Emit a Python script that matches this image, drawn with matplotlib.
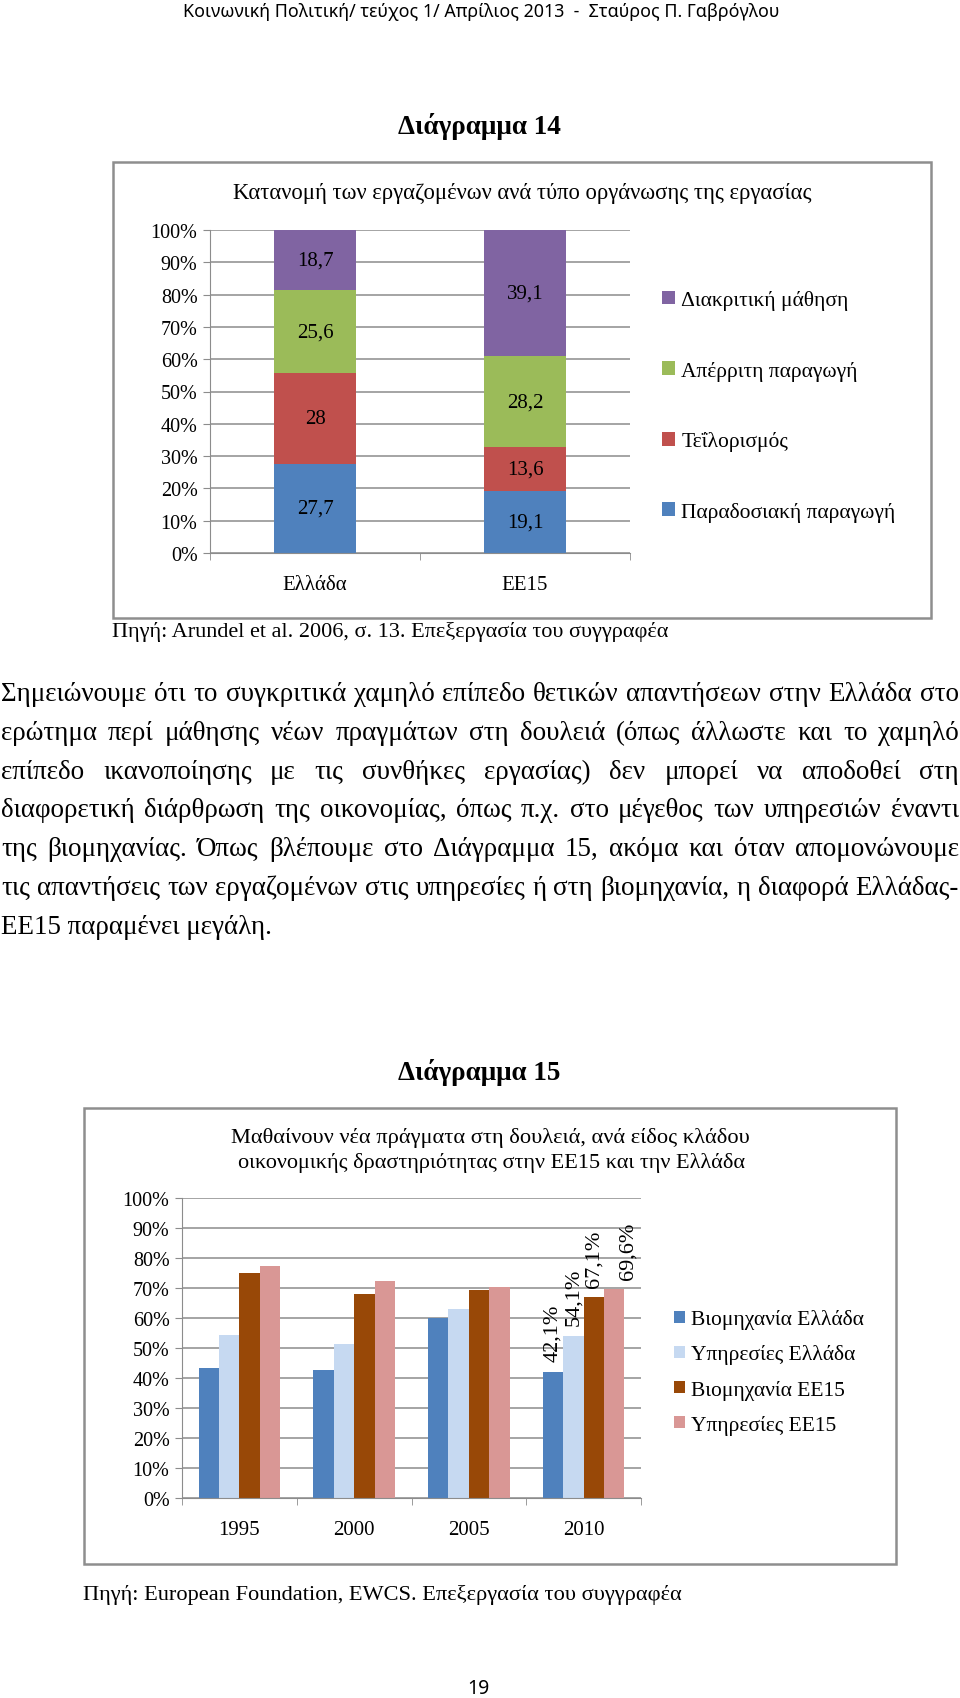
import matplotlib
matplotlib.use('Agg')
import matplotlib.pyplot as plt
import numpy as np
from matplotlib.patches import Rectangle

W, H = 960, 1699
SERIF = 'Liberation Serif'
SANS = 'Noto Sans'
GRID = '#8c8c8c'
plt.rcParams['font.family'] = SERIF

# --- Διάγραμμα 14 data ---
countries = ['Ελλάδα', 'ΕΕ15']
org_types = ['Παραδοσιακή παραγωγή', 'Τεΐλορισμός', 'Απέρριτη παραγωγή', 'Διακριτική μάθηση']
org_colors = ['#4f81bd', '#c0504d', '#9bbb59', '#8064a2']
greece_org = [27.7, 28, 25.6, 18.7]
eu15_org = [19.1, 13.6, 28.2, 39.1]

# --- Διάγραμμα 15 data ---
years = ['1995', '2000', '2005', '2010']
sectors = ['Βιομηχανία Ελλάδα', 'Υπηρεσίες Ελλάδα', 'Βιομηχανία ΕΕ15', 'Υπηρεσίες ΕΕ15']
sector_colors = ['#4f81bd', '#c6d9f1', '#984807', '#d99795']
industry_gr = [43.5, 42.8, 60.0, 42.1]
services_gr = [54.2, 51.4, 63.1, 54.1]
industry_eu = [75.1, 67.9, 69.5, 67.1]
services_eu = [77.5, 72.5, 70.5, 69.6]
labelled_year = '2010'
label_shift = [0, 0, 0, 0.12]  # last label sits a bit right of its bar in the original

paragraph = [
    'Σημειώνουμε ότι το συγκριτικά χαμηλό επίπεδο θετικών απαντήσεων στην Ελλάδα στο',
    'ερώτημα περί μάθησης νέων πραγμάτων στη δουλειά (όπως άλλωστε και το χαμηλό',
    'επίπεδο ικανοποίησης με τις συνθήκες εργασίας) δεν μπορεί να αποδοθεί στη',
    'διαφορετική διάρθρωση της οικονομίας, όπως π.χ. στο μέγεθος των υπηρεσιών έναντι',
    'της βιομηχανίας. Όπως βλέπουμε στο Διάγραμμα 15, ακόμα και όταν απομονώνουμε',
    'τις απαντήσεις των εργαζομένων στις υπηρεσίες ή στη βιομηχανία, η διαφορά Ελλάδας-',
    'ΕΕ15 παραμένει μεγάλη.',
]


def comma(v, fmt='{:g}'):
    return fmt.format(v).replace('.', ',')


fig = plt.figure(figsize=(W / 100, H / 100), dpi=100, facecolor='white')
r = fig.canvas.get_renderer()


def put(x, y, s, size=12, width=None, **kw):
    t = fig.text(x / W, 1 - y / H, s, fontsize=size, **kw)
    if width:
        w = t.get_window_extent(r).width
        t.set_fontsize(size * width / w)
    return t


def axes_px(left, top, right, bottom):
    return fig.add_axes([left / W, 1 - bottom / H, (right - left) / W, (bottom - top) / H])


def frame_px(left, top, right, bottom):
    fig.add_artist(Rectangle((left / W, 1 - bottom / H), (right - left) / W, (bottom - top) / H,
                             transform=fig.transFigure, fill=False, ec='#8e8e8e', lw=1.8))


def style_axes(ax, labels):
    n = len(labels)
    ax.set_ylim(0, 100)
    ax.set_yticks(np.arange(0, 101, 10))
    ax.set_yticklabels([f'{v}%' for v in range(0, 101, 10)], family=SERIF, fontsize=14.5)
    ax.set_xlim(-0.5, n - 0.5)
    ax.set_xticks(np.arange(n))
    ax.set_xticklabels(labels, family=SERIF, fontsize=15)
    ax.set_xticks(np.arange(n + 1) - 0.5, minor=True)
    ax.tick_params(axis='x', which='major', length=0, pad=16)
    ax.tick_params(axis='x', which='minor', length=5, color=GRID, direction='out')
    ax.tick_params(axis='y', length=5, color=GRID, pad=4)
    for s in ['top', 'right']:
        ax.spines[s].set_visible(False)
    for s in ['left', 'bottom']:
        ax.spines[s].set_color(GRID)
    ax.yaxis.grid(True, color=GRID, lw=1.1)
    ax.set_axisbelow(True)


# header
put(481, 12, 'Κοινωνική Πολιτική/ τεύχος 1/ Απρίλιος 2013  -  Σταύρος Π. Γαβρόγλου',
    size=12, width=594, family=SANS, ha='center', va='center')
put(479, 127, 'Διάγραμμα 14', size=16, width=163, family=SERIF, weight='bold', ha='center', va='center')

# ---------------- chart 14 ----------------
frame_px(113, 163, 931, 619)
put(522, 193, 'Κατανομή των εργαζομένων ανά τύπο οργάνωσης της εργασίας', size=14, width=581,
    family=SERIF, ha='center', va='center')
ax1 = axes_px(210, 231, 630, 554)
x1 = np.arange(len(countries))
bottom = np.zeros(len(countries))
conts = []
for i, name in enumerate(org_types):
    vals = np.array([greece_org[i], eu15_org[i]])
    c = ax1.bar(x1, vals, 0.39, bottom=bottom, color=org_colors[i], label=name, zorder=2)
    ax1.bar_label(c, labels=[comma(v) for v in vals], label_type='center', fontsize=15,
                  family=SERIF)
    conts.append(c)
    bottom += vals
style_axes(ax1, countries)
fig.legend(conts[::-1], org_types[::-1], loc='center left', bbox_to_anchor=(662 / W, 1 - 407 / H),
           frameon=False, prop={'family': SERIF, 'size': 15.5}, handlelength=0.6, handleheight=0.6,
           handletextpad=0.3, labelspacing=2.35, borderaxespad=0, borderpad=0)

put(112, 632, 'Πηγή: Arundel et al. 2006, σ. 13. Επεξεργασία του συγγραφέα', size=14, width=559,
    family=SERIF, ha='left', va='center')


# ---------------- paragraph (justified) ----------------
def natural_w(s, fs):
    t = fig.text(0, 0, s, fontsize=fs, family=SERIF)
    w = t.get_window_extent(r).width
    t.remove()
    return w


fs = 18
widest = max(natural_w(l, fs) for l in paragraph[:-1])
fs = fs * 956 / widest
line_gap = 38.8
for k, line in enumerate(paragraph):
    y = 701 + k * line_gap
    if k == len(paragraph) - 1:
        put(1, y, line, size=fs, family=SERIF, ha='left', va='baseline')
        continue
    words = line.split(' ')
    ws = [natural_w(w, fs) for w in words]
    gap = (958 - sum(ws)) / (len(words) - 1)
    x = 1
    for w, wd in zip(words, ws):
        put(x, y, w, size=fs, family=SERIF, ha='left', va='baseline')
        x += wd + gap

put(479, 1073, 'Διάγραμμα 15', size=16, width=163, family=SERIF, weight='bold', ha='center', va='center')

# ---------------- chart 15 ----------------
frame_px(84, 1109, 896, 1565)
put(490, 1138, 'Μαθαίνουν νέα πράγματα στη δουλειά, ανά είδος κλάδου', size=14, width=521,
    family=SERIF, ha='center', va='center')
put(491, 1163, 'οικονομικής δραστηριότητας στην ΕΕ15 και την Ελλάδα', size=14, width=513,
    family=SERIF, ha='center', va='center')
ax2 = axes_px(182, 1199, 641, 1499)
x2 = np.arange(len(years))
bw = 0.178
series = [industry_gr, services_gr, industry_eu, services_eu]
conts2 = []
li = years.index(labelled_year)
for i, (name, vals) in enumerate(zip(sectors, series)):
    xs = x2 + (i - 1.5) * bw
    c = ax2.bar(xs, vals, bw, color=sector_colors[i], label=name, zorder=2)
    conts2.append(c)
    ax2.text(xs[li] + label_shift[i], vals[li] + 3.4, comma(vals[li], '{:.1f}') + '%', rotation=90,
             ha='center', va='bottom', fontsize=16, family=SERIF)
style_axes(ax2, years)
fig.legend(conts2, sectors, loc='center left', bbox_to_anchor=(674 / W, 1 - 1373 / H),
           frameon=False, prop={'family': SERIF, 'size': 15.5}, handlelength=0.5, handleheight=0.5,
           handletextpad=0.3, labelspacing=0.7, borderaxespad=0, borderpad=0)

put(83, 1595, 'Πηγή: European Foundation, EWCS. Επεξεργασία του συγγραφέα', size=14, width=602,
    family=SERIF, ha='left', va='center')

put(478, 1689, '19', size=14, family=SANS, ha='center', va='center')

fig.savefig('out.png', dpi=100, facecolor='white')
